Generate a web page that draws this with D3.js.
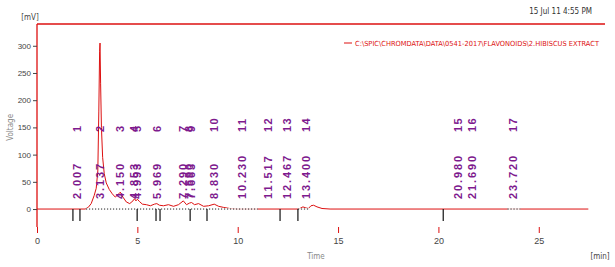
<!DOCTYPE html>
<html><head><meta charset="utf-8">
<script src="https://cdn.jsdelivr.net/npm/d3@7"></script>
<style>
html,body{margin:0;padding:0;background:#fff;}
svg{display:block;font-family:"DejaVu Sans Condensed","Liberation Sans Narrow","DejaVu Sans",sans-serif;}
</style></head>
<body><svg id="c" width="615" height="267"></svg>
<script>
// ---- data ----
const signalTime = [0, 2.40, 2.55, 2.70, 2.85, 2.95, 3.03, 3.08, 3.12, 3.14, 3.17, 3.21, 3.27, 3.35, 3.45, 3.60, 3.75, 3.90, 4.02, 4.15, 4.28, 4.45, 4.62, 4.78, 4.86, 4.93, 5.00, 5.10, 5.25, 5.45, 5.65, 5.85, 5.97, 6.10, 6.30, 6.55, 6.80, 7.05, 7.29, 7.45, 7.60, 7.70, 7.85, 8.05, 8.30, 8.55, 8.83, 9.05, 9.30, 9.60, 10.00, 13.05, 13.25, 13.40, 13.52, 13.65, 13.78, 13.95, 14.20, 14.60, 27.47];
const signalMV   = [0, 0, 3, 10, 25, 38, 70, 180, 290, 305, 230, 150, 95, 65, 48, 36, 28, 22, 26, 31, 22, 13, 10, 15, 19, 15, 18, 14, 9, 8, 6, 9, 10, 7, 6, 8, 5, 8, 15, 8, 11, 12, 8, 10, 5, 6, 9, 5, 3, 1, 0, 0, 4, 2, 1, 6, 7, 4, 1, 0, 0];
const peakNumbers = ["1","2","3","4","5","6","7","8","9","10","11","12","13","14","15","16","17"];
const peakTimes   = [2.007, 3.137, 4.150, 4.853, 4.993, 5.969, 7.290, 7.590, 7.663, 8.830, 10.230, 11.517, 12.467, 13.400, 20.980, 21.690, 23.720];
const markerTimes = [1.79, 2.14, 4.99, 5.93, 6.13, 7.63, 8.47, 12.11, 13.00, 20.24];
const baselineSegments = [[2.44, 11.0], [13.0, 13.6], [23.44, 24.08]];
const xTicks = [0, 5, 10, 15, 20, 25];
const yTicks = [0, 50, 100, 150, 200, 250, 300];
const legendText = "C:\\SPIC\\CHROMDATA\\DATA\\0541-2017\\FLAVONOIDS\\2.HIBISCUS EXTRACT";
const stampText = "15 Jul 11 4:55 PM";

// ---- chart ----
const svg = d3.select("#c");
const RED = "#dd1010", PURPLE = "#7e1a8e", GREY = "#444";
const x = d3.scaleLinear().domain([0, 28.3]).range([37, 605]);
const y = d3.scaleLinear().domain([-33, 340]).range([227, 24]);

// frame lines
svg.append("line").attr("x1", x(0)).attr("x2", x(28.3)).attr("y1", y(340)).attr("y2", y(340))
  .attr("stroke", RED).attr("stroke-width", 1.3);
svg.append("line").attr("x1", x(0)).attr("x2", x(0)).attr("y1", y(340)).attr("y2", y(-33))
  .attr("stroke", RED).attr("stroke-width", 1.3);

// y axis
const ya = svg.append("g").attr("transform", `translate(${x(0)},0)`)
  .call(d3.axisLeft(y).tickValues(yTicks).tickSize(4).tickPadding(2));
ya.select(".domain").remove();
ya.selectAll(".tick line").attr("stroke", GREY);
ya.selectAll(".tick text").attr("fill", GREY).style("font-size", "8px");

// x axis (ticks only)
const xa = svg.append("g").attr("transform", `translate(0,${y(-33)})`)
  .call(d3.axisBottom(x).tickValues(xTicks).tickSize(6).tickPadding(5));
xa.select(".domain").remove();
xa.selectAll(".tick line").attr("stroke", RED);
xa.selectAll(".tick text").attr("fill", GREY).style("font-size", "9px");

// axis titles / units
svg.append("text").attr("x", 30).attr("y", 20).attr("text-anchor", "middle")
  .attr("fill", GREY).style("font-size", "8px").text("[mV]");
svg.append("text").attr("transform", `translate(13,${y(150)}) rotate(-90)`).attr("text-anchor", "middle")
  .attr("fill", "#888").style("font-size", "8px").text("Voltage");
svg.append("text").attr("x", 316).attr("y", 259).attr("text-anchor", "middle")
  .attr("fill", "#888").style("font-size", "8px").text("Time");
svg.append("text").attr("x", 600).attr("y", 259).attr("text-anchor", "middle")
  .attr("fill", GREY).style("font-size", "8px").text("[min]");

// header
svg.append("text").attr("x", 592).attr("y", 14).attr("text-anchor", "end")
  .attr("fill", "#333").style("font-size", "8px").text(stampText);
svg.append("line").attr("x1", 344).attr("x2", 352).attr("y1", 43).attr("y2", 43).attr("stroke", RED);
svg.append("text").attr("x", 355).attr("y", 46).attr("fill", RED).style("font-size", "7px")
  .attr("textLength", 244).attr("lengthAdjust", "spacingAndGlyphs").text(legendText);

// signal
const sig = signalTime.map((t, i) => [t, signalMV[i]]);
svg.append("path").datum(sig)
  .attr("d", d3.line().x(d => x(d[0])).y(d => y(d[1])))
  .attr("fill", "none").attr("stroke", RED).attr("stroke-width", 1);

// integration baselines (dotted)
baselineSegments.forEach(s => {
  svg.append("line").attr("x1", x(s[0])).attr("x2", x(s[1])).attr("y1", y(0)).attr("y2", y(0))
    .attr("stroke", "#fff").attr("stroke-width", 1.6);
  svg.append("line").attr("x1", x(s[0])).attr("x2", x(s[1])).attr("y1", y(0)).attr("y2", y(0))
    .attr("stroke", "#222").attr("stroke-width", 1).attr("stroke-dasharray", "1.2,1.8");
});

// peak event markers
svg.selectAll(".mk").data(markerTimes).enter().append("line")
  .attr("x1", d => x(d)).attr("x2", d => x(d)).attr("y1", y(0)).attr("y2", y(0) + 12)
  .attr("stroke", "#111").attr("stroke-width", 1.2);

// peak labels
const lab = svg.append("g").attr("fill", PURPLE).style("font-family", "'Liberation Sans',Arial,sans-serif")
  .style("font-weight", "bold");
peakTimes.forEach((t, i) => {
  lab.append("text").attr("transform", `translate(${x(t)},132) rotate(-90)`)
    .attr("dy", "0.35em").attr("text-anchor", "start").style("font-size", "11px")
    .style("letter-spacing", "1.5px").text(peakNumbers[i]);
  lab.append("text").attr("transform", `translate(${x(t)},199) rotate(-90)`)
    .attr("dy", "0.35em").attr("text-anchor", "start").style("font-size", "11px")
    .style("letter-spacing", "1.9px").text(t.toFixed(3));
});
</script></body></html>
